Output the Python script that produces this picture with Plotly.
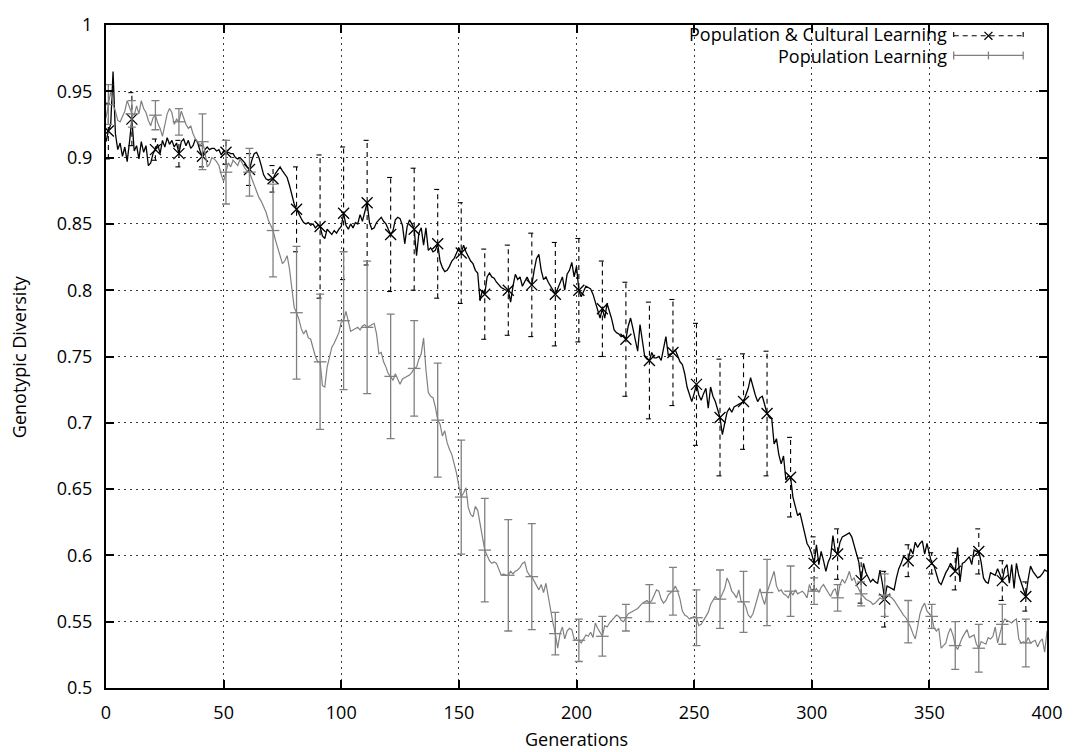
import plotly.graph_objects as go

# ---------------------------------------------------------------- data
generations = list(range(0, 401))

# Population & Cultural Learning: mean genotypic diversity per generation
cultural = [
    0.912, 0.920, 0.925, 0.965, 0.918, 0.906, 0.911, 0.901, 0.908, 0.897,
    0.912, 0.929, 0.905, 0.909, 0.899, 0.912, 0.904, 0.909, 0.894, 0.896,
    0.903, 0.906, 0.910, 0.903, 0.913, 0.908, 0.915, 0.910, 0.913, 0.908,
    0.911, 0.903, 0.912, 0.914, 0.909, 0.913, 0.907, 0.909, 0.914, 0.911,
    0.905, 0.901, 0.906, 0.908, 0.906, 0.907, 0.907, 0.905, 0.906, 0.902,
    0.905, 0.904, 0.904, 0.903, 0.903, 0.900, 0.899, 0.900, 0.898, 0.896,
    0.893, 0.891, 0.898, 0.903, 0.904, 0.900, 0.894, 0.887, 0.884, 0.883,
    0.884, 0.884, 0.888, 0.891, 0.893, 0.890, 0.887, 0.885, 0.879, 0.871,
    0.865, 0.861, 0.857, 0.854, 0.851, 0.850, 0.851, 0.849, 0.850, 0.847,
    0.849, 0.848, 0.841, 0.839, 0.846, 0.844, 0.842, 0.845, 0.843, 0.846,
    0.848, 0.858, 0.849, 0.846, 0.850, 0.847, 0.851, 0.850, 0.857, 0.852,
    0.858, 0.866, 0.851, 0.846, 0.847, 0.851, 0.853, 0.855, 0.852, 0.850,
    0.846, 0.842, 0.845, 0.853, 0.855, 0.854, 0.849, 0.835, 0.848, 0.853,
    0.850, 0.846, 0.826, 0.843, 0.847, 0.834, 0.847, 0.830, 0.832, 0.829,
    0.830, 0.835, 0.822, 0.817, 0.814, 0.815, 0.818, 0.822, 0.824, 0.828,
    0.832, 0.828, 0.834, 0.829, 0.825, 0.822, 0.820, 0.815, 0.813, 0.792,
    0.800, 0.797, 0.810, 0.813, 0.810, 0.809, 0.806, 0.804, 0.802, 0.801,
    0.800, 0.800, 0.791, 0.803, 0.812, 0.808, 0.810, 0.803, 0.806, 0.810,
    0.806, 0.804, 0.815, 0.824, 0.827, 0.815, 0.808, 0.810, 0.806, 0.803,
    0.800, 0.797, 0.801, 0.806, 0.810, 0.800, 0.812, 0.815, 0.821, 0.810,
    0.818, 0.800, 0.795, 0.799, 0.803, 0.802, 0.801, 0.797, 0.791, 0.785,
    0.779, 0.786, 0.779, 0.790, 0.784, 0.778, 0.770, 0.768, 0.767, 0.765,
    0.766, 0.763, 0.773, 0.779, 0.771, 0.761, 0.754, 0.774, 0.760, 0.750,
    0.748, 0.747, 0.753, 0.749, 0.749, 0.750, 0.747, 0.757, 0.765, 0.751,
    0.752, 0.753, 0.755, 0.750, 0.746, 0.744, 0.737, 0.727, 0.721, 0.716,
    0.722, 0.729, 0.721, 0.717, 0.722, 0.726, 0.711, 0.727, 0.720, 0.716,
    0.710, 0.704, 0.691, 0.701, 0.708, 0.711, 0.708, 0.712, 0.713, 0.714,
    0.715, 0.716, 0.721, 0.726, 0.734, 0.727, 0.721, 0.716, 0.719, 0.720,
    0.713, 0.707, 0.704, 0.703, 0.684, 0.688, 0.676, 0.669, 0.675, 0.657,
    0.660, 0.659, 0.644, 0.637, 0.630, 0.632, 0.625, 0.617, 0.609, 0.606,
    0.601, 0.594, 0.608, 0.593, 0.603, 0.596, 0.588, 0.595, 0.599, 0.615,
    0.603, 0.601, 0.610, 0.614, 0.615, 0.616, 0.617, 0.614, 0.607, 0.600,
    0.595, 0.581, 0.594, 0.587, 0.583, 0.580, 0.582, 0.580, 0.579, 0.589,
    0.579, 0.567, 0.577, 0.576, 0.575, 0.574, 0.583, 0.590, 0.594, 0.599,
    0.598, 0.596, 0.605, 0.601, 0.610, 0.606, 0.609, 0.611, 0.601, 0.609,
    0.601, 0.594, 0.592, 0.585, 0.580, 0.578, 0.583, 0.587, 0.590, 0.594,
    0.591, 0.588, 0.606, 0.580, 0.594, 0.595, 0.597, 0.599, 0.593, 0.604,
    0.603, 0.603, 0.595, 0.583, 0.580, 0.579, 0.587, 0.586, 0.585, 0.590,
    0.586, 0.581, 0.590, 0.593, 0.579, 0.593, 0.575, 0.594, 0.585, 0.580,
    0.575, 0.569, 0.582, 0.592, 0.588, 0.585, 0.583, 0.584, 0.586, 0.589,
    0.588,
]

# Population Learning: mean genotypic diversity per generation
population = [
    0.930, 0.940, 0.950, 0.940, 0.935, 0.928, 0.927, 0.931, 0.935, 0.943,
    0.938, 0.933, 0.932, 0.939, 0.933, 0.943, 0.937, 0.934, 0.928, 0.924,
    0.930, 0.932, 0.926, 0.922, 0.916, 0.926, 0.933, 0.937, 0.934, 0.925,
    0.929, 0.927, 0.935, 0.930, 0.925, 0.922, 0.924, 0.918, 0.914, 0.912,
    0.909, 0.912, 0.905, 0.893, 0.895, 0.900, 0.899, 0.897, 0.894, 0.887,
    0.882, 0.889, 0.896, 0.893, 0.898, 0.896, 0.894, 0.899, 0.895, 0.892,
    0.890, 0.889, 0.884, 0.879, 0.874, 0.870, 0.867, 0.863, 0.859, 0.853,
    0.849, 0.845, 0.838, 0.832, 0.826, 0.820, 0.822, 0.826, 0.816, 0.800,
    0.787, 0.783, 0.778, 0.771, 0.767, 0.770, 0.764, 0.763, 0.756, 0.750,
    0.746, 0.746, 0.728, 0.727, 0.742, 0.750, 0.757, 0.760, 0.764, 0.768,
    0.776, 0.777, 0.784, 0.777, 0.769, 0.770, 0.771, 0.772, 0.770, 0.773,
    0.774, 0.772, 0.773, 0.774, 0.775, 0.767, 0.752, 0.753, 0.746, 0.742,
    0.737, 0.735, 0.732, 0.737, 0.733, 0.729, 0.733, 0.734, 0.735, 0.736,
    0.738, 0.741, 0.742, 0.748, 0.752, 0.764, 0.740, 0.723, 0.720, 0.719,
    0.712, 0.702, 0.699, 0.690, 0.694, 0.685, 0.680, 0.676, 0.669, 0.662,
    0.652, 0.644, 0.647, 0.651, 0.636, 0.631, 0.629, 0.637, 0.634, 0.624,
    0.611, 0.604, 0.600, 0.596, 0.594, 0.595, 0.594, 0.590, 0.585, 0.586,
    0.585, 0.585, 0.588, 0.586, 0.588, 0.589, 0.591, 0.594, 0.595, 0.588,
    0.585, 0.584, 0.581, 0.577, 0.574, 0.578, 0.572, 0.579, 0.568, 0.558,
    0.549, 0.541, 0.530, 0.541, 0.546, 0.537, 0.543, 0.545, 0.544, 0.537,
    0.536, 0.536, 0.534, 0.537, 0.540, 0.539, 0.542, 0.538, 0.549, 0.545,
    0.542, 0.539, 0.547, 0.546, 0.549, 0.551, 0.553, 0.555, 0.554, 0.551,
    0.550, 0.553, 0.556, 0.557, 0.558, 0.559, 0.560, 0.562, 0.564, 0.565,
    0.566, 0.564, 0.566, 0.570, 0.574, 0.573, 0.567, 0.564, 0.566, 0.570,
    0.572, 0.573, 0.577, 0.573, 0.567, 0.558, 0.555, 0.554, 0.552, 0.553,
    0.554, 0.553, 0.547, 0.548, 0.551, 0.554, 0.557, 0.563, 0.566, 0.569,
    0.567, 0.567, 0.571, 0.575, 0.583, 0.579, 0.573, 0.571, 0.568, 0.574,
    0.565, 0.565, 0.561, 0.555, 0.553, 0.556, 0.562, 0.569, 0.575, 0.568,
    0.563, 0.572, 0.577, 0.583, 0.588, 0.577, 0.573, 0.574, 0.571, 0.570,
    0.568, 0.573, 0.570, 0.574, 0.571, 0.572, 0.573, 0.571, 0.568, 0.578,
    0.573, 0.573, 0.575, 0.572, 0.576, 0.578, 0.575, 0.571, 0.569, 0.573,
    0.575, 0.568, 0.578, 0.582, 0.579, 0.583, 0.588, 0.581, 0.583, 0.578,
    0.574, 0.571, 0.569, 0.567, 0.566, 0.565, 0.563, 0.564, 0.566, 0.568,
    0.567, 0.570, 0.570, 0.569, 0.568, 0.566, 0.563, 0.560, 0.557, 0.555,
    0.553, 0.550, 0.546, 0.541, 0.537, 0.546, 0.556, 0.561, 0.564, 0.558,
    0.556, 0.554, 0.545, 0.543, 0.545, 0.530, 0.532, 0.534, 0.541, 0.545,
    0.540, 0.532, 0.529, 0.534, 0.538, 0.541, 0.544, 0.538, 0.539, 0.540,
    0.533, 0.530, 0.535, 0.534, 0.533, 0.538, 0.537, 0.539, 0.546, 0.534,
    0.541, 0.548, 0.552, 0.551, 0.550, 0.549, 0.551, 0.552, 0.537, 0.534,
    0.535, 0.534, 0.538, 0.534, 0.535, 0.536, 0.531, 0.535, 0.537, 0.527,
    0.543,
]

# generations at which the spread across runs is shown
err_generations = [1, 11, 21, 31, 41, 51, 61, 71, 81, 91,
                   101, 111, 121, 131, 141, 151, 161, 171, 181, 191,
                   201, 211, 221, 231, 241, 251, 261, 271, 281, 291,
                   301, 311, 321, 331, 341, 351, 361, 371, 381, 391]

cultural_err = [0.021, 0.020, 0.008, 0.010, 0.008, 0.009, 0.012, 0.010, 0.032, 0.054,
                0.050, 0.047, 0.043, 0.046, 0.041, 0.038, 0.034, 0.034, 0.039, 0.039,
                0.039, 0.036, 0.043, 0.044, 0.040, 0.046, 0.044, 0.036, 0.047, 0.030,
                0.020, 0.019, 0.017, 0.021, 0.012, 0.008, 0.014, 0.017, 0.015, 0.011]

population_err = [0.015, 0.010, 0.011, 0.010, 0.021, 0.024, 0.018, 0.035, 0.050, 0.051,
                  0.052, 0.050, 0.047, 0.036, 0.043, 0.043, 0.039, 0.042, 0.040, 0.016,
                  0.016, 0.015, 0.010, 0.014, 0.018, 0.021, 0.022, 0.023, 0.025, 0.019,
                  0.010, 0.010, 0.009, 0.016, 0.016, 0.009, 0.018, 0.018, 0.015, 0.018]

x_tick_vals = [0, 50, 100, 150, 200, 250, 300, 350, 400]
x_tick_text = ["0", "50", "100", "150", "200", "250", "300", "350", "400"]
y_tick_vals = [0.5, 0.55, 0.6, 0.65, 0.7, 0.75, 0.8, 0.85, 0.9, 0.95, 1.0]
y_tick_text = ["0.5", "0.55", "0.6", "0.65", "0.7", "0.75", "0.8", "0.85", "0.9", "0.95", "1"]

series_names = ["Population & Cultural Learning", "Population Learning"]

# ---------------------------------------------------------------- style
FONT = "Open Sans"
FONT_SIZE = 18
BLACK = "#000000"
GREY = "#808080"
W, H = 1074, 752
ML, MR, MT, MB = 106, 20, 13, 64
PW, PH = W - ML - MR, H - MT - MB
CAP = 1.5  # half width of the dashed caps, in generations


def px_x(px):
    return (px - ML) / PW


def px_y(py):
    return (H - MB - py) / PH


index = {g: i for i, g in enumerate(generations)}
cultural_mean = [cultural[index[g]] for g in err_generations]
population_mean = [population[index[g]] for g in err_generations]

# dashed error bars (bar plus caps) for the cultural series
bar_x, bar_y = [], []
for g, m, e in zip(err_generations, cultural_mean, cultural_err):
    lo, hi = m - e, m + e
    bar_x += [g - CAP, g + CAP, None, g, g, None, g - CAP, g + CAP, None]
    bar_y += [lo, lo, None, lo, hi, None, hi, hi, None]

fig = go.Figure()

fig.add_trace(go.Scatter(
    x=bar_x, y=bar_y, mode="lines", connectgaps=False,
    line=dict(color=BLACK, width=1.1, dash="5px,4px"),
    showlegend=False, hoverinfo="skip"))

fig.add_trace(go.Scatter(
    x=err_generations, y=cultural_mean, mode="markers",
    marker=dict(symbol="x-thin", size=11, line=dict(color=BLACK, width=1.3)),
    name=series_names[0], showlegend=False))

fig.add_trace(go.Scatter(
    x=generations, y=cultural, mode="lines",
    line=dict(color=BLACK, width=1.3), showlegend=False))

fig.add_trace(go.Scatter(
    x=err_generations, y=population_mean, mode="markers",
    marker=dict(symbol="line-ew", size=9, line=dict(color=GREY, width=1.3)),
    error_y=dict(type="data", array=population_err, visible=True,
                 color=GREY, thickness=1.3, width=4),
    name=series_names[1], showlegend=False))

fig.add_trace(go.Scatter(
    x=generations, y=population, mode="lines",
    line=dict(color=GREY, width=1.2), showlegend=False))

axis_common = dict(
    ticks="inside", ticklen=8, tickwidth=2, tickcolor=BLACK,
    showline=True, linewidth=2, linecolor=BLACK, mirror="ticks",
    showgrid=True, gridcolor="#3a3a3a", gridwidth=1, griddash="2px,4px",
    zeroline=False, tickfont=dict(family=FONT, size=FONT_SIZE, color=BLACK),
)

fig.update_xaxes(range=[0, 400], tickvals=x_tick_vals, ticktext=x_tick_text,
                 ticklabelstandoff=7, **axis_common)
fig.update_yaxes(range=[0.5, 1.0], tickvals=y_tick_vals, ticktext=y_tick_text,
                 ticklabelstandoff=8, **axis_common)

annotations = [
    dict(text="Generations", x=0.5, y=px_y(740), xref="paper", yref="paper",
         showarrow=False, xanchor="center", yanchor="middle",
         font=dict(family=FONT, size=FONT_SIZE, color=BLACK)),
    dict(text="Genotypic Diversity", x=px_x(18), y=0.5, xref="paper", yref="paper",
         showarrow=False, textangle=-90, xanchor="center", yanchor="middle",
         font=dict(family=FONT, size=FONT_SIZE, color=BLACK)),
]
legend_rows = [22, 45]
for name, row in zip(series_names, legend_rows):
    annotations.append(dict(
        text=name, x=px_x(954), y=px_y(row), xref="paper", yref="paper",
        showarrow=False, xanchor="right", yanchor="middle", borderpad=0,
        font=dict(family=FONT, size=FONT_SIZE, color=BLACK)))

# legend keys drawn as error-bar samples
sx0, sx1, sxm = 960, 1030, 995
shapes = []
ry = legend_rows[0] + 2
dash_line = dict(color=BLACK, width=1.1, dash="5px,4px")
shapes.append(dict(type="line", xref="paper", yref="paper",
                   x0=px_x(sx0), x1=px_x(sx1), y0=px_y(ry), y1=px_y(ry), line=dash_line))
for sx in (sx0, sx1):
    shapes.append(dict(type="line", xref="paper", yref="paper",
                       x0=px_x(sx), x1=px_x(sx), y0=px_y(ry - 4), y1=px_y(ry + 4),
                       line=dash_line))
solid_black = dict(color=BLACK, width=1.3)
shapes.append(dict(type="line", xref="paper", yref="paper",
                   x0=px_x(sxm - 4), x1=px_x(sxm + 4), y0=px_y(ry - 4), y1=px_y(ry + 4),
                   line=solid_black))
shapes.append(dict(type="line", xref="paper", yref="paper",
                   x0=px_x(sxm - 4), x1=px_x(sxm + 4), y0=px_y(ry + 4), y1=px_y(ry - 4),
                   line=solid_black))

ry = legend_rows[1] - 1
grey_line = dict(color=GREY, width=1.3)
shapes.append(dict(type="line", xref="paper", yref="paper",
                   x0=px_x(sx0), x1=px_x(sx1), y0=px_y(ry), y1=px_y(ry), line=grey_line))
for sx in (sx0, sxm, sx1):
    shapes.append(dict(type="line", xref="paper", yref="paper",
                       x0=px_x(sx), x1=px_x(sx), y0=px_y(ry - 4), y1=px_y(ry + 4),
                       line=grey_line))

fig.update_layout(
    width=W, height=H,
    margin=dict(l=ML, r=MR, t=MT, b=MB),
    paper_bgcolor="white", plot_bgcolor="white",
    showlegend=False,
    annotations=annotations, shapes=shapes,
    font=dict(family=FONT, size=FONT_SIZE, color=BLACK),
)

fig.write_html("out.html")
